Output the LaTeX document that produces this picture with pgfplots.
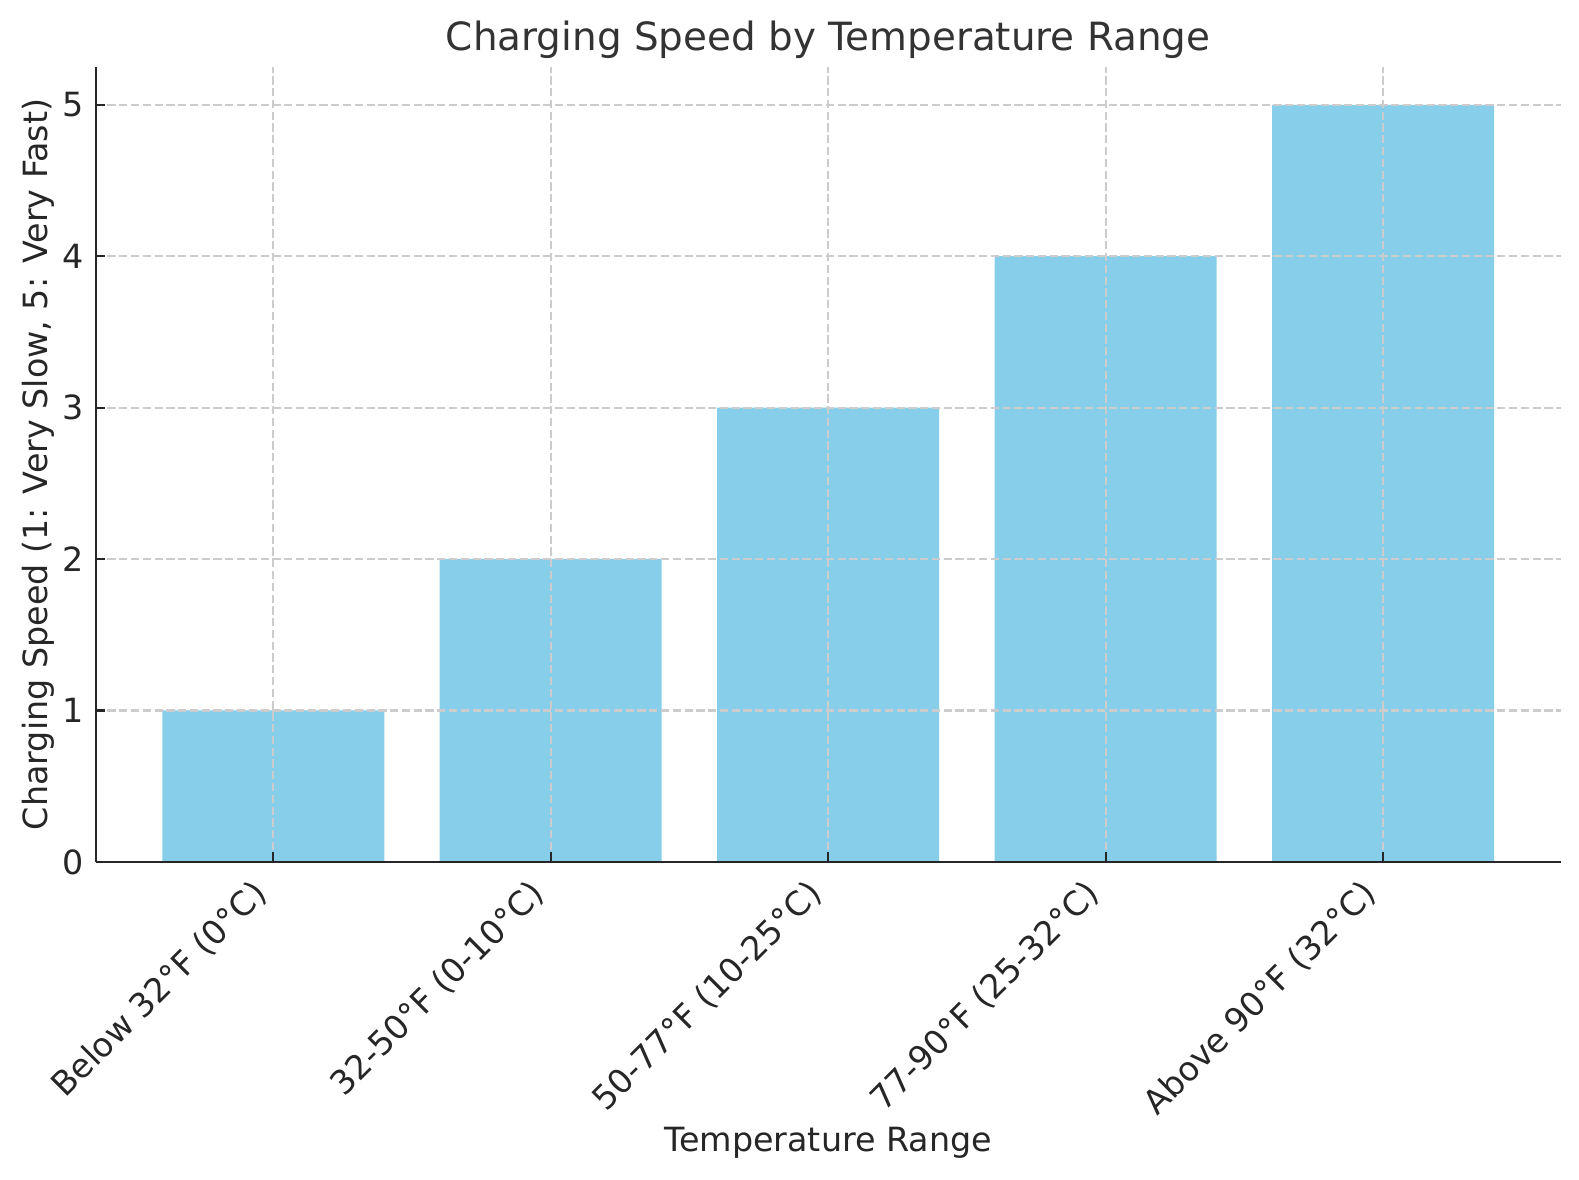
\documentclass[border=0pt]{standalone}
\usepackage{fontspec}
\setmainfont{DejaVu Sans}
\usepackage{pgfplots}
\pgfplotsset{compat=1.18}
\definecolor{skyblue}{HTML}{87CEEB}
\definecolor{gridgray}{HTML}{CCCCCC}
\definecolor{txt}{HTML}{262626}
\definecolor{ttl}{HTML}{333333}
\begin{document}
\begin{tikzpicture}
\begin{axis}[
  at={(0pt,0pt)}, anchor=south west,
  scale only axis, width=527.4pt, height=286.2pt,
  xmin=-0.64, xmax=4.64, ymin=0, ymax=5.25,
  axis lines=left,
  axis line style={-, line width=0.8pt, color=txt},
  tick align=inside, major tick length=3.5pt,
  tick style={line width=0.8pt, color=txt},
  xtick={0,1,2,3,4},
  xticklabels={Below 32°F (0°C), 32-50°F (0-10°C), 50-77°F (10-25°C), 77-90°F (25-32°C), Above 90°F (32°C)},
  ytick={0,1,2,3,4,5},
  grid=major,
  major grid style={line width=0.8pt, color=gridgray, dash pattern=on 2.96pt off 1.28pt},
  axis on top,
  /pgf/number format/assume math mode=true,
  tick label style={font=\fontsize{12}{14}\selectfont, color=txt},
  xticklabel style={inner sep=0pt, anchor=north east, xshift=-8.2pt, yshift=-5.4pt, rotate=45},
  yticklabel style={inner sep=0pt, anchor=east, xshift=-4.2pt},
  title={Charging Speed by Temperature Range},
  xlabel={Temperature Range},
  ylabel={Charging Speed (1: Very Slow, 5: Very Fast)},
  every axis title/.style={at={(axis description cs:0.5,1.0213)}, anchor=base, font=\fontsize{14}{17}\selectfont, color=ttl},
  every axis x label/.style={at={(axis description cs:0.5,-0.3648)}, anchor=base, font=\fontsize{12}{14}\selectfont, color=txt},
  every axis y label/.style={at={(axis description cs:-0.0332,0.5)}, rotate=90, anchor=base, font=\fontsize{12}{14}\selectfont, color=txt},
]
\addplot[ybar, bar width=0.8, bar shift=0pt, fill=skyblue, draw=none] coordinates {(0,1) (1,2) (2,3) (3,4) (4,5)};
\end{axis}
\pgfresetboundingbox
\path[use as bounding box] (-34.45pt,-114.5pt) rectangle (534.0pt,310.3pt);
\end{tikzpicture}
\end{document}
